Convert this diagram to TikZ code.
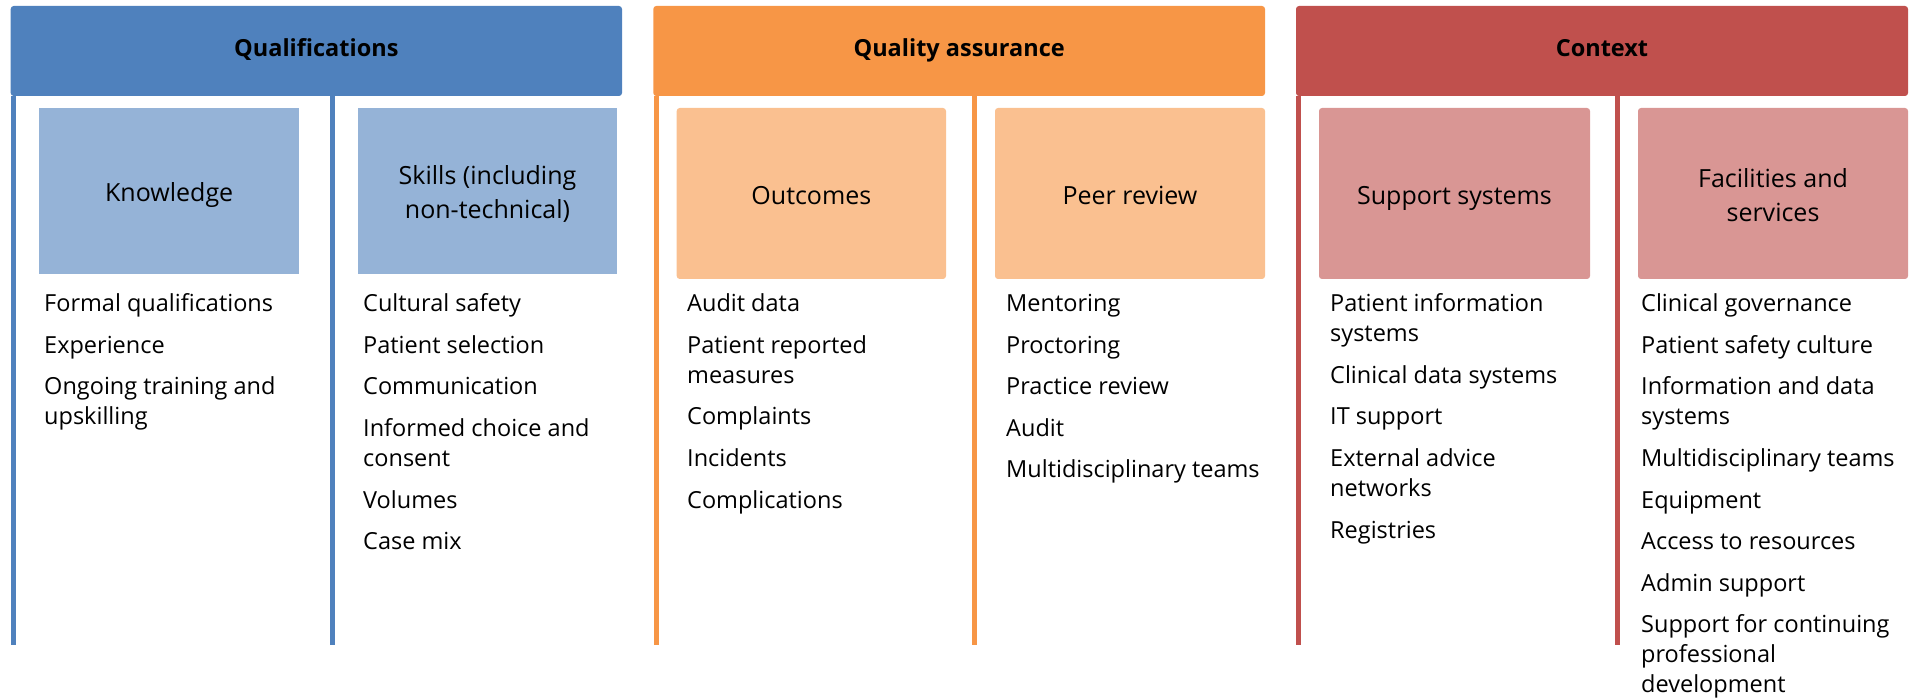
\documentclass[tikz,border=0pt]{standalone}
\usepackage{fontspec}
\setmainfont{Open Sans}
\definecolor{qblue}{HTML}{4F81BD}
\definecolor{qbluel}{HTML}{95B3D7}
\definecolor{qorange}{HTML}{F79646}
\definecolor{qorangel}{HTML}{FAC090}
\definecolor{qred}{HTML}{C0504D}
\definecolor{qredl}{HTML}{D99694}
\newcommand{\listfont}{\fontsize{23.5}{30}\selectfont}
\newcommand{\boxfont}{\fontsize{25}{34}\selectfont}
\tikzset{
  hdr/.style={fill=#1, draw=none, rounded corners=3pt, inner sep=0pt,
    minimum height=90pt, font=\fontsize{23.5}{30}\selectfont\bfseries,
    text height=12pt, text depth=0pt},
  subbox/.style={fill=#1, draw=none, inner sep=0pt, font=\boxfont,
    text height=22pt, text depth=0pt},
  twoline/.style={text height=0pt, text depth=12pt},
  rbox/.style={rounded corners=3pt},
  vline/.style={draw=#1, line width=5pt},
  itemlist/.style={anchor=base west, inner sep=0pt, font=\listfont}
}
\begin{document}
\begin{tikzpicture}[x=1pt,y=-1pt]
\useasboundingbox (0,0) rectangle (1918,700);

% headers
\node[hdr=qblue, minimum width=611.3pt] (hq) at (316.35,51) {Qualifications};
\node[hdr=qorange, minimum width=611.7pt] (ha) at (959.15,51) {Quality assurance};
\node[hdr=qred, minimum width=612pt] (hc) at (1602,51) {Context};

% vertical lines
\coordinate (q1) at (13.2,645);
\coordinate (q2) at (332,645);
\coordinate (a1) at (656,645);
\coordinate (a2) at (974,645);
\coordinate (c1) at (1298.5,645);
\coordinate (c2) at (1617,645);
\draw[vline=qblue] (hq.south -| q1) -- (q1);
\draw[vline=qblue] (hq.south -| q2) -- (q2);
\draw[vline=qorange] (ha.south -| a1) -- (a1);
\draw[vline=qorange] (ha.south -| a2) -- (a2);
\draw[vline=qred] (hc.south -| c1) -- (c1);
\draw[vline=qred] (hc.south -| c2) -- (c2);

% sub boxes
\node[subbox=qbluel, minimum width=259.7pt, minimum height=166pt] (kn) at (169.15,191) {Knowledge};
\node[subbox=qbluel, twoline, minimum width=259pt, minimum height=166pt] (sk) at (487.5,191)
  {\begin{tabular}[t]{@{}c@{}}Skills (including\\non-technical)\end{tabular}};
\node[subbox=qorangel, rbox, minimum width=269.3pt, minimum height=171pt] (oc) at (811.35,193.5) {Outcomes};
\node[subbox=qorangel, rbox, minimum width=270pt, minimum height=171pt] (pr) at (1130,193.5) {Peer review};
\node[subbox=qredl, rbox, minimum width=271pt, minimum height=171pt] (ss) at (1454.5,193.5) {Support systems};
\node[subbox=qredl, rbox, twoline, minimum width=270pt, minimum height=171pt] (fs) at (1773,193.5)
  {\begin{tabular}[t]{@{}c@{}}Facilities and\\services\end{tabular}};

% item lists
\node[itemlist] (l1) at (44,312) {\begin{tabular}[t]{@{}l@{}}
Formal qualifications\\[11.5pt]
Experience\\[11.5pt]
Ongoing training and\\
upskilling
\end{tabular}};
\node[itemlist] (l2) at (363,312) {\begin{tabular}[t]{@{}l@{}}
Cultural safety\\[11.5pt]
Patient selection\\[11.5pt]
Communication\\[11.5pt]
Informed choice and\\
consent\\[11.5pt]
Volumes\\[11.5pt]
Case mix
\end{tabular}};
\node[itemlist] (l3) at (687,312) {\begin{tabular}[t]{@{}l@{}}
Audit data\\[11.5pt]
Patient reported\\
measures\\[11.5pt]
Complaints\\[11.5pt]
Incidents\\[11.5pt]
Complications
\end{tabular}};
\node[itemlist] (l4) at (1006,312) {\begin{tabular}[t]{@{}l@{}}
Mentoring\\[11.5pt]
Proctoring\\[11.5pt]
Practice review\\[11.5pt]
Audit\\[11.5pt]
Multidisciplinary teams
\end{tabular}};
\node[itemlist] (l5) at (1330,312) {\begin{tabular}[t]{@{}l@{}}
Patient information\\
systems\\[11.5pt]
Clinical data systems\\[11.5pt]
IT support\\[11.5pt]
External advice\\
networks\\[11.5pt]
Registries
\end{tabular}};
\node[itemlist] (l6) at (1641,312) {\begin{tabular}[t]{@{}l@{}}
Clinical governance\\[11.5pt]
Patient safety culture\\[11.5pt]
Information and data\\
systems\\[11.5pt]
Multidisciplinary teams\\[11.5pt]
Equipment\\[11.5pt]
Access to resources\\[11.5pt]
Admin support\\[11.5pt]
Support for continuing\\
professional\\
development
\end{tabular}};
\end{tikzpicture}
\end{document}
